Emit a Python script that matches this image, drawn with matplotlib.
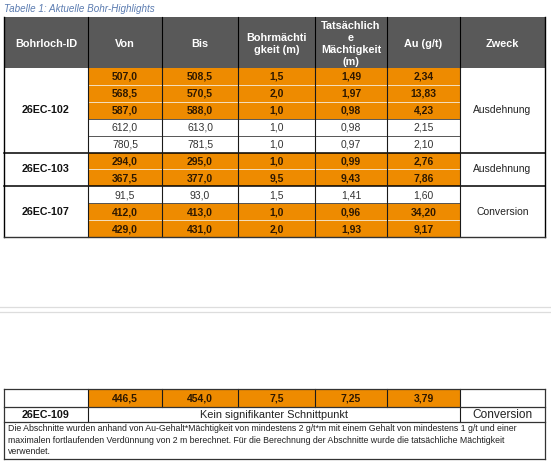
import matplotlib
matplotlib.use("Agg")
import matplotlib.pyplot as plt
from matplotlib.patches import Rectangle

# ---- table content ----
caption = "Tabelle 1: Aktuelle Bohr-Highlights"
headers = ["Bohrloch-ID", "Von", "Bis", "Bohrmächti\ngkeit (m)",
           "Tatsächlich\ne\nMächtigkeit\n(m)", "Au (g/t)", "Zweck"]

hole_ids = ["26EC-102", "26EC-103", "26EC-107"]
purposes = ["Ausdehnung", "Ausdehnung", "Conversion"]
group_sizes = [5, 2, 3]

von = [507.0, 568.5, 587.0, 612.0, 780.5, 294.0, 367.5, 91.5, 412.0, 429.0]
bis = [508.5, 570.5, 588.0, 613.0, 781.5, 295.0, 377.0, 93.0, 413.0, 431.0]
drill_m = [1.5, 2.0, 1.0, 1.0, 1.0, 1.0, 9.5, 1.5, 1.0, 2.0]
true_m = [1.49, 1.97, 0.98, 0.98, 0.97, 0.99, 9.43, 1.41, 0.96, 1.93]
au_gt = [2.34, 13.83, 4.23, 2.15, 2.10, 2.76, 7.86, 1.60, 34.20, 9.17]
highlight = [True, True, True, False, False, True, True, False, True, True]

# continuation of 26EC-107 on the next page
cont_row = [446.5, 454.0, 7.5, 7.25, 3.79]
last_id = "26EC-109"
last_text = "Kein signifikanter Schnittpunkt"
last_purpose = "Conversion"
note = ("Die Abschnitte wurden anhand von Au-Gehalt*Mächtigkeit von mindestens 2 g/t*m mit einem Gehalt von mindestens 1 g/t und einer\n"
        "maximalen fortlaufenden Verdünnung von 2 m berechnet. Für die Berechnung der Abschnitte wurde die tatsächliche Mächtigkeit\n"
        "verwendet.")

# ---- layout (pixels) ----
col_x = [4, 88, 162, 238, 315, 387, 460, 545]
head_top, head_bot = 17, 68
row_h = (237 - head_bot) / len(von)
b_rows = [389, 407, 422, 459]

HEAD_GRAY = "#595959"
ORANGE = "#ee8b00"
DARK = "#2e1800"
FONT = "Liberation Sans"


def fmt(v, nd):
    return f"{v:.{nd}f}".replace(".", ",")


fig = plt.figure(figsize=(5.51, 4.66), dpi=100)
ax = fig.add_axes([0, 0, 1, 1])
ax.set_xlim(0, 551)
ax.set_ylim(466, 0)
ax.axis("off")

ax.text(4, 8.5, caption, fontsize=7.1, style="italic", color="#5a7bb0",
        family=FONT, va="center", ha="left")

# header
ax.add_patch(Rectangle((col_x[0], head_top), col_x[-1] - col_x[0],
                       head_bot - head_top, facecolor=HEAD_GRAY, edgecolor="none"))
for i, h in enumerate(headers):
    cx = (col_x[i] + col_x[i + 1]) / 2
    ax.text(cx, (head_top + head_bot) / 2 + 1.5, h, ha="center", va="center",
            color="white", fontsize=7.8, fontweight="bold", family=FONT,
            linespacing=1.28)
for x in col_x[1:-1]:
    ax.plot([x, x], [head_top, head_bot], color="black", lw=0.8)

# body rows
cols = [von, bis, drill_m, true_m, au_gt]
decimals = [1, 1, 1, 2, 2]
for r in range(len(von)):
    y0 = head_bot + r * row_h
    yc = y0 + row_h / 2
    if highlight[r]:
        ax.add_patch(Rectangle((col_x[1], y0), col_x[6] - col_x[1], row_h,
                               facecolor=ORANGE, edgecolor="none"))
    for c in range(5):
        cx = (col_x[c + 1] + col_x[c + 2]) / 2
        ax.text(cx, yc + 0.5, fmt(cols[c][r], decimals[c]), ha="center", va="center",
                fontsize=7.5, family=FONT,
                fontweight="bold" if highlight[r] else "normal",
                color=DARK if highlight[r] else "#333333")

# group cells and horizontal lines
start = 0
for g, n in enumerate(group_sizes):
    y0 = head_bot + start * row_h
    y1 = head_bot + (start + n) * row_h
    yc = (y0 + y1) / 2
    ax.text((col_x[0] + col_x[1]) / 2, yc, hole_ids[g], ha="center", va="center",
            fontsize=7.7, fontweight="bold", family=FONT, color="#111111")
    ax.text((col_x[6] + col_x[7]) / 2, yc, purposes[g], ha="center", va="center",
            fontsize=7.5, family=FONT, color="#222222")
    for k in range(1, n):
        yy = head_bot + (start + k) * row_h
        both = highlight[start + k] and highlight[start + k - 1]
        ax.plot([col_x[1], col_x[6]], [yy, yy],
                color="#f4e0c0" if both else "#555555", lw=0.7)
    if g < len(group_sizes) - 1:
        ax.plot([col_x[0], col_x[-1]], [y1, y1], color="black", lw=1.1)
    start += n

body_bot = head_bot + len(von) * row_h
for x in col_x[1:-1]:
    ax.plot([x, x], [head_bot, body_bot], color="#1a1a1a", lw=0.8)
ax.plot([col_x[0], col_x[0]], [head_top, body_bot], color="black", lw=1.0)
ax.plot([col_x[-1], col_x[-1]], [head_top, body_bot], color="black", lw=1.0)
ax.plot([col_x[0], col_x[-1]], [body_bot, body_bot], color="#333333", lw=1.0)

# page break
for yy in [307, 312]:
    ax.plot([0, 551], [yy, yy], color="#dddddd", lw=0.9)

# lower table
ax.add_patch(Rectangle((col_x[1], b_rows[0]), col_x[6] - col_x[1],
                       b_rows[1] - b_rows[0], facecolor=ORANGE, edgecolor="none"))
for c in range(5):
    cx = (col_x[c + 1] + col_x[c + 2]) / 2
    ax.text(cx, (b_rows[0] + b_rows[1]) / 2 + 0.5, fmt(cont_row[c], decimals[c]),
            ha="center", va="center", fontsize=7.5, fontweight="bold",
            family=FONT, color=DARK)
for x in col_x[1:-1]:
    ax.plot([x, x], [b_rows[0], b_rows[1]], color="#1a1a1a", lw=0.8)
ax.plot([col_x[1], col_x[1]], [b_rows[1], b_rows[2]], color="#1a1a1a", lw=0.8)
ax.plot([col_x[6], col_x[6]], [b_rows[1], b_rows[2]], color="#1a1a1a", lw=0.8)
for yy in b_rows:
    ax.plot([col_x[0], col_x[-1]], [yy, yy], color="#333333", lw=0.9)
for x in [col_x[0], col_x[-1]]:
    ax.plot([x, x], [b_rows[0], b_rows[-1]], color="#333333", lw=0.9)

yc = (b_rows[1] + b_rows[2]) / 2
ax.text((col_x[0] + col_x[1]) / 2, yc, last_id, ha="center", va="center",
        fontsize=7.7, fontweight="bold", family=FONT, color="#111111")
ax.text((col_x[1] + col_x[6]) / 2, yc, last_text, ha="center", va="center",
        fontsize=7.9, family=FONT, color="#222222")
ax.text((col_x[6] + col_x[7]) / 2, yc, last_purpose, ha="center", va="center",
        fontsize=8.6, family=FONT, color="#222222")
ax.text(8, b_rows[2] + 2, note, ha="left", va="top", fontsize=6.3,
        family=FONT, color="#222222", linespacing=1.38)

fig.savefig("out.png", dpi=100)
